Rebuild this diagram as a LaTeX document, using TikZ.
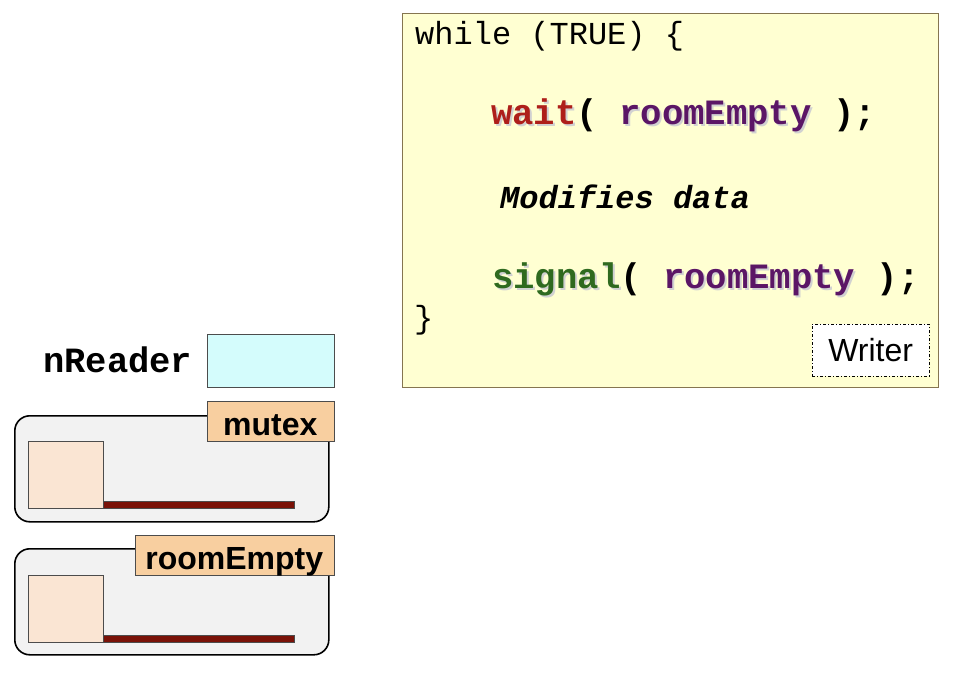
\documentclass[tikz,border=0pt]{standalone}
\usepackage{fontspec}
\setmainfont{Liberation Sans}
\setmonofont{Liberation Mono}
\usetikzlibrary{positioning}

\definecolor{codebg}{HTML}{FFFFD2}
\definecolor{codeframe}{HTML}{857550}
\definecolor{waitred}{HTML}{AE1F1A}
\definecolor{sempurple}{HTML}{5B1666}
\definecolor{signalgreen}{HTML}{2F6A1F}
\definecolor{countbg}{HTML}{D4FCFC}
\definecolor{sembg}{HTML}{F2F2F2}
\definecolor{tagbg}{HTML}{F8CFA0}
\definecolor{slotbg}{HTML}{FAE5D3}
\definecolor{queuebar}{HTML}{7A1208}

% bold code word with a soft shadow
\newcommand{\shword}[2]{\makebox[0pt][l]{\hspace{2pt}\raisebox{-2pt}{\textcolor{black!18}{#2}}}\textcolor{#1}{#2}}

\begin{document}
\begin{tikzpicture}[x=1pt, y=-1pt,
    codeline/.style={anchor=base west, inner sep=0pt},
    tagbox/.style={draw=black!70, fill=tagbg, anchor=north east, inner sep=0pt,
      minimum height=40pt, text height=28pt, text depth=0pt,
      font=\fontsize{32}{36}\selectfont\bfseries},
    semabox/.style={draw=black, line width=1.6pt, fill=sembg, rounded corners=15pt,
      anchor=north west, minimum width=314pt, minimum height=106pt, inner sep=0pt},
    slotbox/.style={draw=black!70, fill=slotbg, anchor=north west,
      minimum width=75pt, minimum height=67pt, inner sep=0pt},
    barbox/.style={draw=black!70, fill=queuebar, anchor=south west,
      minimum width=191pt, minimum height=7pt, inner sep=0pt}]
  \useasboundingbox (0,0) rectangle (954,680);

  % Writer code
  \node (code) [draw=codeframe, fill=codebg, anchor=north west, inner sep=0pt,
    minimum width=536pt, minimum height=374pt] at (402,13) {};
  \node (while) [codeline, font=\fontsize{32}{36}\ttfamily] at (415,45) {while (TRUE) \{};
  \node (wait) [codeline, font=\fontsize{35.6}{40}\ttfamily\bfseries] at (491,124)
    {\shword{waitred}{wait}( \shword{sempurple}{roomEmpty} );};
  \node (modify) [codeline, font=\fontsize{32}{36}\ttfamily\bfseries\itshape] at (500,208) {Modifies data};
  \node (signal) [codeline, font=\fontsize{35.6}{40}\ttfamily\bfseries] at (492,288)
    {\shword{signalgreen}{signal}( \shword{sempurple}{roomEmpty} );};
  \node (close) [codeline, font=\fontsize{32}{36}\ttfamily] at (414,328) {\}};
  \node (writer) [draw=black, fill=white, dash pattern=on 3pt off 2pt on 1pt off 2pt,
    anchor=north west, inner sep=0pt, minimum width=117pt, minimum height=52pt,
    font=\fontsize{32}{36}\selectfont] at (812,324) {Writer};

  % Shared variables
  \node (count) [draw=black!70, fill=countbg, anchor=north west, inner sep=0pt,
    minimum width=127pt, minimum height=53pt] at (207,334) {};
  \node (countname) [codeline, font=\fontsize{35.5}{40}\ttfamily\bfseries] at (43,372) {nReader};

  % Semaphore mutex
  \node (mutex) [semabox] at (14,415) {};
  \node (mutexslot) [slotbox] at (28,441) {};
  \node (mutexbar) [barbox] at (mutexslot.south east) {};
  \node (mutextag) [tagbox, minimum width=127pt] at (334,401) {mutex};

  % Semaphore roomEmpty
  \node (empty) [semabox] at (14,548) {};
  \node (emptyslot) [slotbox] at (28,575) {};
  \node (emptybar) [barbox] at (emptyslot.south east) {};
  \node (emptytag) [tagbox, minimum width=199pt] at (334,535) {roomEmpty};
\end{tikzpicture}
\end{document}
